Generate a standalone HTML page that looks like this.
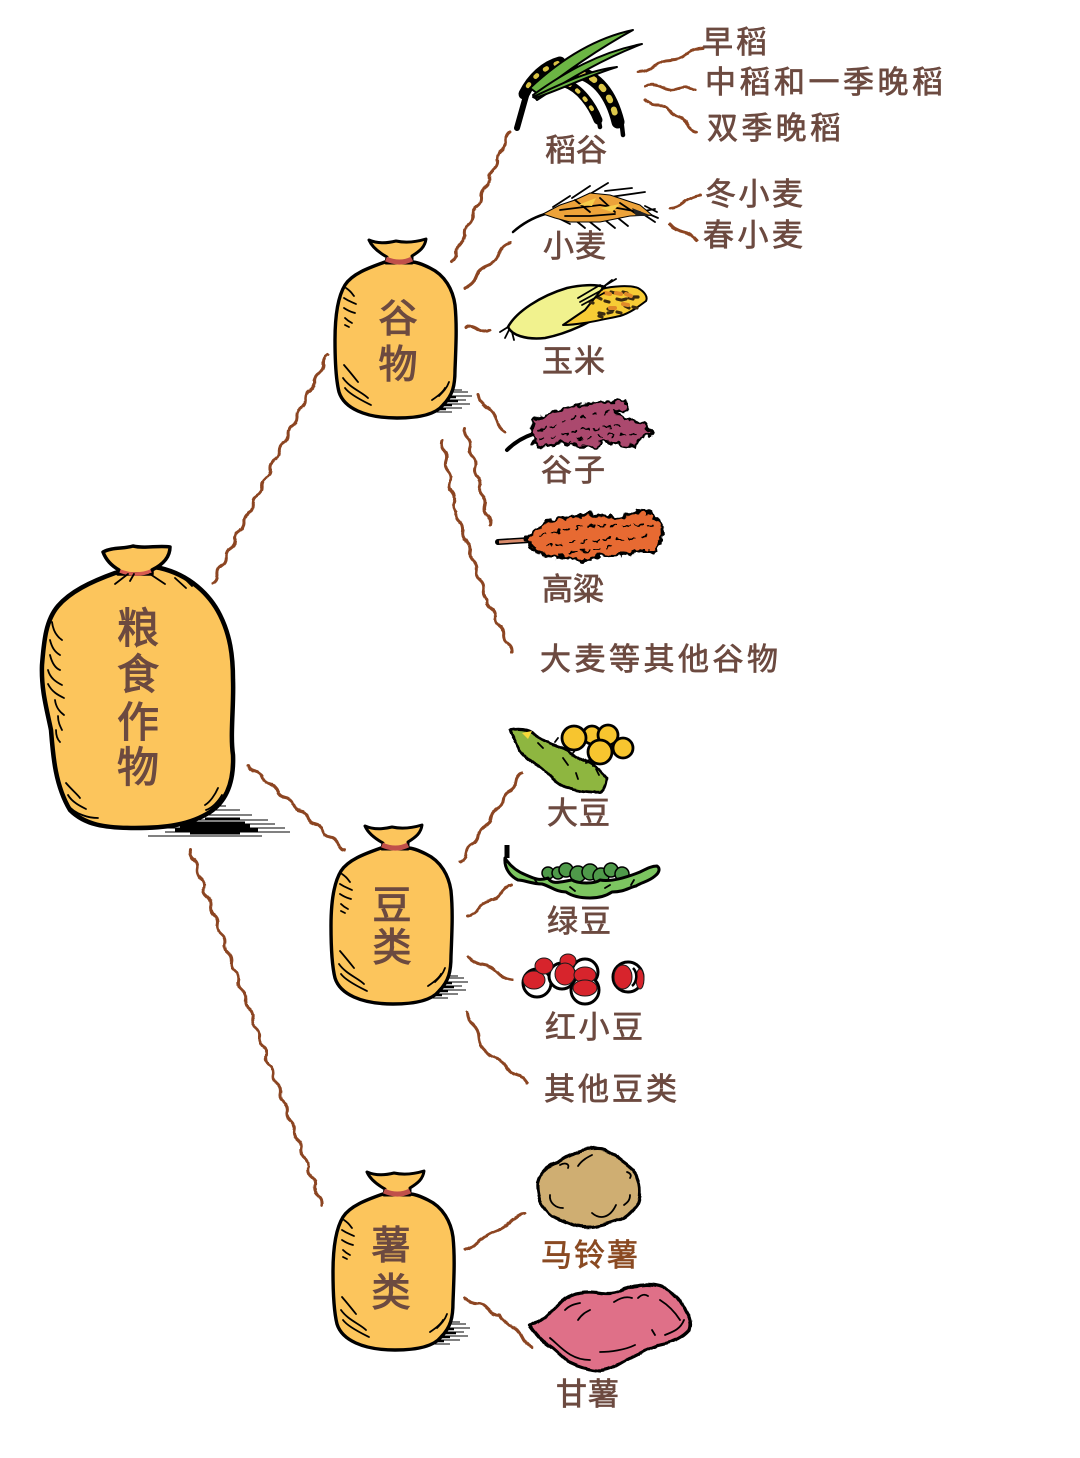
<!DOCTYPE html>
<html><head><meta charset="utf-8">
<style>
html,body{margin:0;padding:0;background:#fff}
svg{display:block}
text{font-family:"Liberation Sans","WenQuanYi Zen Hei","Noto Sans CJK SC",sans-serif;fill:#6c4a40;stroke:#6c4a40;stroke-width:.7;text-anchor:start}
.c text{text-anchor:middle;stroke-width:1.1}
.ln{fill:none;stroke:#8c4520;stroke-width:3;stroke-linecap:round;stroke-linejoin:round}
.o{stroke:#000;stroke-linejoin:round;stroke-linecap:round}
.d{fill:none;stroke:#000;stroke-width:1.8;stroke-linecap:round}
</style></head><body>
<svg xmlns="http://www.w3.org/2000/svg" width="1080" height="1458" viewBox="0 0 1080 1458">
<defs>
<filter id="w" x="-5%" y="-5%" width="110%" height="110%"><feTurbulence type="fractalNoise" baseFrequency="0.09" numOctaves="2" seed="4"/><feDisplacementMap in="SourceGraphic" scale="3" xChannelSelector="R" yChannelSelector="G"/></filter>
<filter id="b" x="-10%" y="-10%" width="120%" height="120%"><feTurbulence type="fractalNoise" baseFrequency="0.14" numOctaves="2" seed="7"/><feDisplacementMap in="SourceGraphic" scale="9" xChannelSelector="R" yChannelSelector="G"/></filter>
<filter id="s" x="-10%" y="-10%" width="120%" height="120%"><feTurbulence type="fractalNoise" baseFrequency="0.06" numOctaves="2" seed="2"/><feDisplacementMap in="SourceGraphic" scale="4" xChannelSelector="R" yChannelSelector="G"/></filter>
<g id="bag">
<g stroke="#000" stroke-width="1">
<path d="M418 392H468M425 396H472M430 400H466M408 404H470M400 408H462M392 412H452M420 394H452M440 390H462"/>
<path d="M428 397H456M425 401H458M420 405H452M418 409H446" stroke-width="2.6"/>
</g>
<path class="o" fill="#fcc55c" stroke-width="3.4" d="M385 262C368 268 352 274 345 285C337 298 335 320 335 340C335 360 336 380 339 392C344 408 365 418 397 418C420 418 436 414 443 405C453 395 455 385 455 370C456 345 457 325 455 305C453 290 445 275 430 268C422 264 416 262 412 262Z"/>
<path class="o" fill="#fcc55c" stroke-width="3" d="M369 240C378 244 388 243 396 241C405 243 416 242 426 239C425 247 420 251 412 256L412 263L386 263L387 257C378 252 372 247 369 240Z"/>
<path fill="none" stroke="#c0504a" stroke-width="5" d="M386 259C395 263 404 263 412 259"/>
<path class="d" d="M346 288C352 292 352 294 354 296M344 298C350 302 352 302 356 304M344 308C350 312 352 312 355 313M345 318C348 321 350 322 352 323M345 325C347 326 347 326 349 327"/>
<path class="d" d="M344 365C350 372 354 377 358 382M343 378C350 388 362 392 368 398M345 388C350 395 365 402 371 405M439 396C443 392 447 388 449 382M432 400C438 396 443 392 445 388"/>
</g>
</defs>
<rect width="1080" height="1458" fill="#fff"/>

<!-- connectors -->
<g filter="url(#w)">
<path class="ln" d="M213 583q4.9 -3 4.42 -8.77t4.42 -8.77t4.42 -8.77t4.42 -8.77t4.42 -8.77t4.42 -8.77t4.42 -8.77t4.42 -8.77t4.42 -8.77t4.42 -8.77t4.42 -8.77t4.42 -8.77t4.42 -8.77t4.42 -8.77t4.42 -8.77t4.42 -8.77t4.42 -8.77t4.42 -8.77t4.42 -8.77t4.42 -8.77t4.42 -8.77t4.42 -8.77t4.42 -8.77t4.42 -8.77t4.42 -8.77t4.42 -8.77"/>
<path class="ln" d="M248 765q1.7 5.5 7.46 6.54t7.46 6.54t7.46 6.54t7.46 6.54t7.46 6.54t7.46 6.54t7.46 6.54t7.46 6.54t7.46 6.54t7.46 6.54t7.46 6.54t7.46 6.54t7.46 6.54"/>
<path class="ln" d="M190 850q-1.1 5.7 3.47 9.34t3.47 9.34t3.47 9.34t3.47 9.34t3.47 9.34t3.47 9.34t3.47 9.34t3.47 9.34t3.47 9.34t3.47 9.34t3.47 9.34t3.47 9.34t3.47 9.34t3.47 9.34t3.47 9.34t3.47 9.34t3.47 9.34t3.47 9.34t3.47 9.34t3.47 9.34t3.47 9.34t3.47 9.34t3.47 9.34t3.47 9.34t3.47 9.34t3.47 9.34t3.47 9.34t3.47 9.34t3.47 9.34t3.47 9.34t3.47 9.34t3.47 9.34t3.47 9.34t3.47 9.34t3.47 9.34t3.47 9.34t3.47 9.34t3.47 9.34"/>
<path class="ln" d="M452 262q4.8 -3.4 4.14 -9.29t4.14 -9.29t4.14 -9.29t4.14 -9.29t4.14 -9.29t4.14 -9.29t4.14 -9.29t4.14 -9.29t4.14 -9.29t4.14 -9.29t4.14 -9.29t4.14 -9.29t4.14 -9.29t4.14 -9.29"/>
<path class="ln" d="M465 288q8.4 -2.8 11.25 -11.25t11.25 -11.25t11.25 -11.25t11.25 -11.25"/>
<path class="ln" d="M465 328q6.25 -3.5 12.5 1t12.5 1"/>
<path class="ln" d="M478 395q2.1 7.95 9 12.3t9 12.3t9 12.3"/>
<path class="ln" d="M465 428q-1.65 5.6 2.5 9.7t2.5 9.7t2.5 9.7t2.5 9.7t2.5 9.7t2.5 9.7t2.5 9.7t2.5 9.7t2.5 9.7t2.5 9.7"/>
<path class="ln" d="M442 440q-1.9 5.7 2 10.3t2 10.3t2 10.3t2 10.3t2 10.3t2 10.3t2 10.3M456 512q-1.1 5.9 3.44 9.78t3.44 9.78t3.44 9.78t3.44 9.78t3.44 9.78t3.44 9.78t3.44 9.78t3.44 9.78t3.44 9.78M487 600q-.6 5.6 4.17 8.67t4.17 8.67t4.17 8.67t4.17 8.67t4.17 8.67t4.17 8.67"/>
<path class="ln" d="M460 862q5.6 -2.75 6.2 -8.9t6.2 -8.9t6.2 -8.9t6.2 -8.9t6.2 -8.9t6.2 -8.9t6.2 -8.9t6.2 -8.9t6.2 -8.9t6.2 -8.9"/>
<path class="ln" d="M468 916q7.2 -1.5 11 -7.75t11 -7.75t11 -7.75t11 -7.75"/>
<path class="ln" d="M468 957q5.9 6.5 14.67 7.67t14.67 7.67t14.67 7.67"/>
<path class="ln" d="M467 1012q.3 7.6 6 12.67t6 12.67t6 12.67M485 1050q3.35 6.5 10.5 8.25t10.5 8.25t10.5 8.25t10.5 8.25"/>
<path class="ln" d="M465 1250q8.5 -3 15 -9.25t15 -9.25t15 -9.25t15 -9.25"/>
<path class="ln" d="M465 1298q4.5 5.5 11.67 5.67t11.67 5.67t11.67 5.67M500 1315q3.2 7.4 10.67 10.67t10.67 10.67t10.67 10.67"/>
<path class="ln" d="M638 72q9.1 -.2 16.25 -6t16.25 -6t16.25 -6t16.25 -6"/>
<path class="ln" d="M645 86q8.3 -3 16.7 1.3t16.7 1.3t16.7 1.3"/>
<path class="ln" d="M645 100q5.1 5.3 12.5 5t12.5 5M670 110q2.6 6 9 7.3t9 7.3t9 7.3"/>
<path class="ln" d="M670 208q8.5 -1 15 -6.5t15 -6.5"/>
<path class="ln" d="M670 224q5.5 6.5 13.5 8t13.5 8"/>
</g>

<!-- big bag -->
<g stroke="#000" stroke-width="1">
<path d="M150 828H285M165 832H290M148 836H262M175 824H275M185 820H268M200 815H252M215 810H240M212 806H226"/>
<path d="M180 826H250M175 830H258M190 823H245M190 833H240M205 819H240" stroke-width="3"/>
</g>
<path class="o" fill="#fcc55c" stroke-width="4.5" d="M115 573C90 582 70 592 58 606C46 620 44 640 42 665C41 690 47 710 51 730C53 755 55 785 70 810C85 825 105 828 135 828C165 828 190 825 210 812C228 800 234 780 233 755C230 735 234 705 233 680C233 655 230 635 220 615C210 595 190 575 160 568C145 565 130 568 115 573Z"/>
<path class="o" fill="#fcc55c" stroke-width="3.5" d="M103 552C112 547 124 549 133 546C145 549 158 545 170 547C170 556 164 564 152 570L152 574L118 574L119 570C112 566 106 560 103 552Z"/>
<path fill="none" stroke="#d65a50" stroke-width="3.5" d="M120 571C130 575 142 575 151 571"/>
<path class="d" stroke-width="2" d="M115 584L128 574M130 581L134 574M150 574L165 584M175 578L186 588M182 576L192 586"/>
<path class="d" d="M52 622C53 630 56 636 62 640M50 640C52 648 55 652 60 655M50 655C52 663 55 668 60 670M48 670C50 678 56 682 62 685M48 684C52 692 58 695 64 698M55 700C56 708 60 712 64 715M58 716C58 722 60 726 62 730M56 730C56 736 58 740 60 742"/>
<path class="d" d="M66 783C72 790 78 795 80 798M68 795C72 802 80 806 86 809M67 804C75 815 90 818 98 818M218 788C215 795 210 802 205 805M222 795C218 802 212 808 206 810"/>
<g class="c">
<text x="138" y="643" font-size="42">粮</text>
<text x="138" y="689" font-size="42">食</text>
<text x="138" y="737" font-size="42">作</text>
<text x="138" y="782" font-size="42">物</text>
</g>

<!-- sub bags -->
<use href="#bag"/>
<use href="#bag" transform="translate(-4 586)"/>
<use href="#bag" transform="translate(-2 932)"/>
<g class="c">
<text x="398" y="332" font-size="39">谷</text>
<text x="398" y="378" font-size="39">物</text>
<text x="392" y="919" font-size="39">豆</text>
<text x="392" y="961" font-size="39">类</text>
<text x="391" y="1259" font-size="39">薯</text>
<text x="391" y="1306" font-size="39">类</text>
</g>

<!-- rice -->
<path d="M517 128L526 96" stroke="#000" stroke-width="6" stroke-linecap="round"/>
<path d="M600 127L598 116M623 135L621 118" stroke="#000" stroke-width="4.5" stroke-linecap="round"/>
<path d="M524 94C532 78 545 66 560 62" fill="none" stroke="#000" stroke-width="11" stroke-linecap="round"/>
<path d="M528 86C534 76 545 68 558 63" fill="none" stroke="#d9c243" stroke-width="4.5" stroke-dasharray="2 10" stroke-linecap="round"/>
<path d="M565 83C580 88 592 105 598 120" fill="none" stroke="#000" stroke-width="9" stroke-linecap="round"/>
<path d="M568 84C580 90 590 105 596 116" fill="none" stroke="#e0c84a" stroke-width="4" stroke-dasharray="2 9" stroke-linecap="round"/>
<path d="M577 72C600 78 612 98 618 122" fill="none" stroke="#000" stroke-width="13" stroke-linecap="round"/>
<path d="M580 73C600 78 612 98 616 118" fill="none" stroke="#dcc74a" stroke-width="6" stroke-dasharray="3 10" stroke-linecap="round"/>
<path class="o" fill="#6cb544" stroke-width="2" d="M530 88C560 60 595 38 633 30C600 48 565 72 538 94Z"/>
<path class="o" fill="#6cb544" stroke-width="2" d="M533 95C565 72 600 52 642 44C605 58 570 78 537 100Z"/>
<path class="o" fill="#6cb544" stroke-width="2" d="M533 97C565 82 590 70 617 67C590 75 560 90 535 98Z"/>

<!-- wheat -->
<path d="M513 232C522 224 532 218 545 214" fill="none" stroke="#000" stroke-width="2.5" stroke-linecap="round"/>
<path class="d" stroke-width="2" d="M553 207L570 196M572 198L590 186M590 194L608 183M605 191L632 188M610 197L645 192M558 218L570 224M575 220L585 228M590 222L600 230M605 220L615 228M618 218L628 226M628 214L655 209M635 208L658 218M640 212L655 222M645 206L657 212"/>
<path class="o" fill="#eda33a" stroke-width="1" d="M543 214L560 205L575 200L590 193L610 195L640 205L652 215L630 216L600 222L570 222L555 218Z"/>
<path class="d" stroke-width="1.3" d="M560 210L600 205L640 212M575 200L590 212M600 198L615 212M620 203L635 213M565 216L590 216L615 214"/>
<path d="M578 205L596 198L592 206ZM600 208L620 204L612 212Z" fill="#f7cd4a"/>
<path d="M632 208L652 216L636 216Z" fill="#222"/>

<!-- corn -->
<path class="o" fill="#f1f28e" stroke-width="2.5" d="M508 327C516 312 540 296 567 288C580 285 595 284 605 287L610 310C590 322 570 333 545 338C525 340 512 335 508 327Z"/>
<path class="o" fill="#f7cc35" stroke-width="2" d="M563 325L585 310L602 289C612 286 630 285 638 288C645 292 648 297 646 301C638 307 630 313 620 316C600 320 580 325 563 325Z"/>
<path d="M590 302l3 1m4 -6l4 2m4 2l4 1m2 -10l4 1m2 6l4 1m2 -8l4 1m2 5l4 1m-34 14l5 1m4 -5l5 1m4 2l4 1m4 -7l4 2m4 -1l4 1m-38 8l3 1m6 -4l4 -1m10 -12l4 -1m8 -2l4 0" stroke="#3a2a10" stroke-width="3.2" stroke-linecap="round" fill="none"/>
<path d="M605 293l5 1m6 -1l5 1m5 0l5 2m-8 8l5 1m-18 3l5 0" stroke="#e08a2a" stroke-width="4" stroke-linecap="round" fill="none"/>
<path class="d" d="M578 298L600 285M580 302L602 290M582 305L604 293M602 288L612 280M606 285L616 279M508 327L500 332M509 330L505 338M512 332L514 340"/>

<!-- millet -->
<path d="M507 450C515 442 524 437 533 434" fill="none" stroke="#000" stroke-width="4" stroke-linecap="round"/>
<g filter="url(#b)">
<path class="o" fill="#ab4a6e" stroke-width="2.6" d="M531 432L533 420L557 410L585 405L592 402L626 401L628 409L615 412L625 418L645 425L652 434L640 438L636 447L625 445L603 441L597 447L580 447L562 442L545 447L537 447Z"/>
<path class="d" stroke-width="1.8" stroke-dasharray="5 6" d="M540 430L575 418L610 412M540 440L580 430L625 425M565 442L600 436L640 434"/>
</g>

<!-- sorghum -->
<path d="M498 542L530 540" stroke="#000" stroke-width="6" stroke-linecap="round"/>
<path d="M499 542L530 540" stroke="#d88a6a" stroke-width="3"/>
<g filter="url(#b)">
<path class="o" fill="#e76b30" stroke-width="3" d="M528 537L548 521L570 517L590 514L617 518L640 511L650 513L662 525L663 538L655 551L635 551L622 555L600 556L583 561L560 557L543 555L530 547Z"/>
<path class="d" stroke-width="1.7" stroke-dasharray="6 6" d="M540 535L580 527L620 525L652 525M545 546L590 540L650 537M570 552L610 548"/>
</g>

<!-- soybean -->
<g filter="url(#s)">
<path class="o" fill="#8eb63f" stroke-width="2.8" d="M510 730C520 728 528 730 533 733C545 742 558 746 567 750C582 760 600 768 607 778C606 786 604 790 600 792C590 793 575 790 565 787C553 782 548 772 540 767C532 762 522 756 518 747C515 740 512 735 510 730Z"/>
</g>
<path d="M522 733L532 731L528 739Z" fill="#f7d93a"/>
<path class="d" stroke-width="1.2" d="M555 742l3 -4m15 15l3 -4m10 14l3 -3m4 6l3 -3m-58 -20l5 5m20 10l5 7m8 8l2 6m18 -10l3 6"/>
<g class="o" fill="#f7c52f" stroke-width="2.8">
<circle cx="592" cy="735" r="9"/><circle cx="608" cy="735" r="10"/><circle cx="623" cy="748" r="10"/><circle cx="574" cy="738" r="12"/><circle cx="600" cy="752" r="12"/>
</g>

<!-- mung bean -->
<path d="M507 845L507 858" stroke="#000" stroke-width="5"/>
<g class="o" fill="#4f9a4a" stroke-width="1.5">
<circle cx="548" cy="873" r="6"/><circle cx="558" cy="873" r="6"/><circle cx="566" cy="870" r="7"/><circle cx="578" cy="874" r="8"/><circle cx="590" cy="872" r="8"/><circle cx="601" cy="876" r="8"/><circle cx="611" cy="870" r="7"/><circle cx="622" cy="874" r="7"/>
</g>
<path class="o" fill="#7cc560" stroke-width="3" d="M505 858C510 866 518 872 526 875C535 879 540 881 548 878C552 885 560 882 572 880C578 884 595 884 600 880C610 882 625 878 640 872C648 868 652 866 657 866C660 868 660 872 655 876C648 882 642 882 636 886C628 888 624 892 612 892C606 896 598 898 590 898C580 898 572 896 566 892C556 892 550 886 542 884C532 884 524 880 518 880C510 876 504 868 505 858Z"/>
<path class="d" stroke-width="1.4" d="M535 880l3 4m32 3l5 4m30 -3l5 -3m24 -5l-3 5"/>

<!-- red beans -->
<g class="o" stroke-width="3" fill="#fff">
<circle cx="537" cy="983" r="14"/><circle cx="585" cy="972" r="13"/><circle cx="585" cy="990" r="14"/><circle cx="562" cy="976" r="13"/><circle cx="628" cy="977" r="15"/>
</g>
<g fill="#d7242c" stroke="#1a1a1a" stroke-width="1">
<ellipse cx="534" cy="980" rx="11" ry="9"/><ellipse cx="544" cy="966" rx="9" ry="8"/><ellipse cx="568" cy="961" rx="8" ry="7"/><ellipse cx="565" cy="974" rx="10" ry="11"/><ellipse cx="585" cy="975" rx="11" ry="8"/><ellipse cx="585" cy="988" rx="12" ry="8"/><ellipse cx="623" cy="977" rx="9" ry="12"/><ellipse cx="640" cy="979" rx="4" ry="10"/>
</g>
<path d="M633 968C638 973 637 982 632 986" fill="none" stroke="#000" stroke-width="2.5"/>

<!-- potato -->
<g filter="url(#s)">
<path class="o" fill="#cfae72" stroke-width="3.2" d="M538 1183C540 1172 548 1165 558 1162C568 1155 578 1150 590 1149C602 1147 612 1150 618 1158C626 1165 636 1170 637 1178C641 1188 640 1198 637 1205C632 1212 626 1218 618 1220C606 1224 594 1228 583 1227C572 1226 562 1220 552 1216C544 1210 537 1198 538 1183Z"/>
</g>
<path class="d" stroke-width="2.2" d="M560 1165C565 1162 570 1164 568 1168M578 1166C582 1160 588 1157 592 1155M550 1195C549 1203 556 1208 563 1208M592 1213C600 1220 610 1218 616 1205M627 1172C630 1173 632 1175 630 1178M630 1195C630 1200 628 1202 624 1205"/>

<!-- sweet potato -->
<g filter="url(#s)">
<path class="o" fill="#df6f88" stroke-width="3.2" d="M530 1326C542 1320 552 1312 560 1303C568 1295 578 1292 590 1292C600 1292 610 1296 620 1291C630 1286 642 1283 655 1285C670 1287 680 1298 685 1310C690 1318 691 1325 689 1330C682 1338 672 1342 662 1344C650 1346 642 1354 630 1358C618 1364 612 1370 600 1371C588 1370 576 1366 568 1362C560 1356 556 1350 548 1345C540 1340 534 1332 530 1326Z"/>
</g>
<path class="d" stroke-width="2.2" d="M565 1310C570 1305 575 1304 580 1303M578 1320C582 1314 586 1312 590 1310M614 1302C620 1298 626 1296 632 1298M638 1298C642 1294 645 1294 648 1296M550 1338C560 1346 570 1360 590 1360M600 1352C610 1352 625 1350 635 1345M660 1300C668 1305 675 1312 680 1320M665 1335C672 1332 680 1330 684 1320M655 1335L652 1330"/>

<!-- labels -->
<g font-size="31">
<text x="702" y="53" textLength="65" lengthAdjust="spacing">早稻</text>
<text x="705" y="93" textLength="238" lengthAdjust="spacing">中稻和一季晚稻</text>
<text x="707" y="139" textLength="134" lengthAdjust="spacing">双季晚稻</text>
<text x="545" y="161" textLength="62" lengthAdjust="spacing">稻谷</text>
<text x="705" y="205" textLength="98" lengthAdjust="spacing">冬小麦</text>
<text x="703" y="246" textLength="100" lengthAdjust="spacing">春小麦</text>
<text x="543" y="257" textLength="63" lengthAdjust="spacing">小麦</text>
<text x="542" y="372" textLength="63" lengthAdjust="spacing">玉米</text>
<text x="541" y="481" textLength="64" lengthAdjust="spacing">谷子</text>
<text x="542" y="600" textLength="62" lengthAdjust="spacing">高粱</text>
<text x="540" y="670" textLength="238" lengthAdjust="spacing">大麦等其他谷物</text>
<text x="547" y="824" textLength="63" lengthAdjust="spacing">大豆</text>
<text x="547" y="932" textLength="64" lengthAdjust="spacing">绿豆</text>
<text x="545" y="1038" textLength="98" lengthAdjust="spacing">红小豆</text>
<text x="544" y="1100" textLength="133" lengthAdjust="spacing">其他豆类</text>
<text x="541" y="1266" textLength="97" lengthAdjust="spacing" style="fill:#8a4a22;stroke:#8a4a22">马铃薯</text>
<text x="556" y="1405" textLength="63" lengthAdjust="spacing">甘薯</text>
</g>
</svg>
</body></html>
